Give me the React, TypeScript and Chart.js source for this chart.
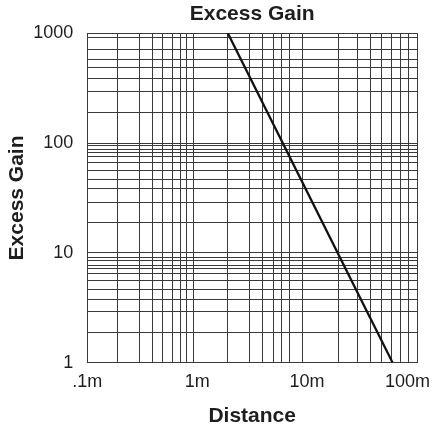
import React, { useEffect, useRef } from 'react';
import { Chart, registerables } from 'chart.js';

Chart.register(...registerables);

// Data: the plotted line (log-log)
const DISTANCE = [1.9, 60];
const GAIN = [1000, 1];

// Grid lines
const X_GRID = [0.1, 0.19, 0.3, 0.39, 0.48, 0.59, 0.7, 0.8, 0.93, 1.9, 3, 3.9, 4.9, 5.9, 6.85, 9, 19.5, 29, 38, 48, 59, 71.5, 84.5, 100];
const Y_GRID = [1, 1.9, 2.9, 3.8, 4.6, 5.6, 6.5, 7.25, 7.75, 8.5, 9.15, 10, 19, 28.5, 38.5, 46.5, 56.5, 67, 75.5, 82, 88, 94, 100, 190, 295, 390, 490, 575, 705, 915, 1000];

// Tick labels
const X_TICK_VALUES = [0.1, 1, 10, 100];
const X_TICK_LABELS = ['.1m', '1m', '10m', '100m'];
const Y_TICK_VALUES = [1, 10, 100, 1000];
const Y_TICK_LABELS = ['1', '10', '100', '1000'];

const TITLE = 'Excess Gain';
const X_TITLE = 'Distance';
const Y_TITLE = 'Excess Gain';

const FAMILY = "'Liberation Sans', Arial, Helvetica, sans-serif";
const TEXT = '#1e1e1e';
const GRID = '#3a3a3a';

const keepLabelsInside = {
  id: 'keepLabelsInside',
  beforeDraw(chart: any) {
    const xs: any = chart.scales.x;
    if (!xs || typeof xs.getLabelItems !== 'function') return;
    const items = xs.getLabelItems();
    const ctx = chart.ctx;
    items.forEach((it: any) => {
      if (!it || !it.label) return;
      ctx.save();
      ctx.font = it.font.string;
      const w = ctx.measureText(String(it.label)).width;
      ctx.restore();
      const maxX = chart.width - w / 2 - 3;
      if (it.options.translation[0] > maxX) it.options.translation[0] = maxX;
    });
  },
};

export default function App() {
  const ref = useRef<HTMLCanvasElement>(null);

  useEffect(() => {
    const xTicks = Array.from(new Set([...X_GRID, ...X_TICK_VALUES])).sort((a, b) => a - b);
    const yTicks = Array.from(new Set([...Y_GRID, ...Y_TICK_VALUES])).sort((a, b) => a - b);

    const chart = new Chart(ref.current as HTMLCanvasElement, {
      type: 'line',
      data: {
        datasets: [
          {
            data: DISTANCE.map((d, i) => ({ x: d, y: GAIN[i] })),
            borderColor: '#111111',
            borderWidth: 2.3,
            pointRadius: 0,
            fill: false,
            tension: 0,
          },
        ],
      },
      options: {
        animation: false,
        responsive: true,
        maintainAspectRatio: false,
        layout: { padding: { left: 0, right: 16, top: 0, bottom: 0 } },
        plugins: {
          legend: { display: false },
          tooltip: { enabled: false },
          title: {
            display: true,
            text: TITLE,
            fullSize: false,
            color: TEXT,
            font: { family: FAMILY, size: 21, weight: 'bold' },
            padding: { top: 2, bottom: 6 },
          },
        },
        scales: {
          x: {
            type: 'logarithmic',
            min: 0.1,
            max: 100,
            position: 'bottom',
            afterBuildTicks: (axis: any) => {
              axis.ticks = xTicks.map((v) => ({ value: v }));
            },
            afterFit: (axis: any) => {
              axis.paddingRight = 0;
              axis.height = 67.3;
            },
            ticks: {
              autoSkip: false,
              maxRotation: 0,
              minRotation: 0,
              padding: 9,
              color: TEXT,
              font: { family: FAMILY, size: 18 },
              callback: (v: any) => {
                const i = X_TICK_VALUES.indexOf(Number(v));
                return i >= 0 ? X_TICK_LABELS[i] : '';
              },
            },
            grid: {
              drawTicks: false,
              lineWidth: 1,
              color: (ctx: any) => (ctx.tick && X_GRID.includes(ctx.tick.value) ? GRID : 'rgba(0,0,0,0)'),
            },
            border: { display: true, color: GRID, width: 1 },
            title: {
              display: true,
              text: X_TITLE,
              color: TEXT,
              font: { family: FAMILY, size: 21, weight: 'bold' },
              padding: { top: 10.5, bottom: 1 },
            },
          },
          y: {
            type: 'logarithmic',
            min: 1,
            max: 1000,
            position: 'left',
            afterBuildTicks: (axis: any) => {
              axis.ticks = yTicks.map((v) => ({ value: v }));
            },
            afterFit: (axis: any) => {
              axis.width = 87.3;
            },
            ticks: {
              autoSkip: false,
              padding: 14,
              color: TEXT,
              font: { family: FAMILY, size: 18 },
              callback: (v: any) => {
                const i = Y_TICK_VALUES.indexOf(Number(v));
                return i >= 0 ? Y_TICK_LABELS[i] : '';
              },
            },
            grid: {
              drawTicks: false,
              lineWidth: 1,
              color: (ctx: any) => (ctx.tick && Y_GRID.includes(ctx.tick.value) ? GRID : 'rgba(0,0,0,0)'),
            },
            border: { display: true, color: GRID, width: 1 },
            title: {
              display: true,
              text: Y_TITLE,
              color: TEXT,
              font: { family: FAMILY, size: 21, weight: 'bold' },
              padding: { top: 4.4, bottom: 3.7 },
            },
          },
        },
      } as any,
      plugins: [keepLabelsInside],
    });

    return () => chart.destroy();
  }, []);

  return (
    <div style={{ position: 'fixed', left: 0, top: 0, width: 433, height: 430, background: '#ffffff' }}>
      <canvas ref={ref} />
    </div>
  );
}
